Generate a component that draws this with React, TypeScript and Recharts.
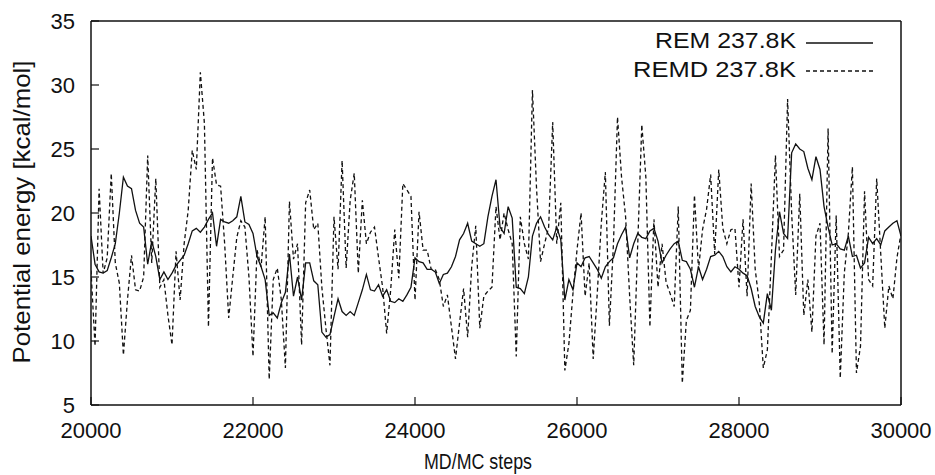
import { LineChart, Line, XAxis, YAxis, Legend } from "recharts";

const FONT = '"Liberation Sans", Arial, Helvetica, sans-serif';
const INK = "#111";

// sampling of the trajectories (MD/MC steps)
const STEP_START = 20000;
const STEP_SIZE = 50;

// REM 237.8K potential energy [kcal/mol]
const remEnergy = [
  18.2, 16.0, 15.4, 15.3, 15.5, 16.5, 17.6, 20.0, 22.8, 22.1,
  21.9, 20.2, 19.2, 18.9, 16.0, 17.8, 16.6, 14.8, 15.4, 14.8,
  15.3, 15.9, 16.3, 16.7, 17.6, 18.6, 18.8, 18.5, 18.9, 19.5,
  20.0, 17.4, 19.5, 19.3, 19.2, 19.4, 19.7, 21.3, 19.3, 19.1,
  18.4, 16.6, 15.8, 14.8, 12.0, 12.2, 11.8, 13.0, 13.8, 16.8,
  13.5, 15.0, 13.2, 16.1, 16.1, 14.7, 14.4, 10.7, 10.3, 10.5,
  11.9, 13.3, 12.3, 12.0, 12.3, 12.0, 13.0, 14.0, 15.2, 14.0,
  13.9, 14.4, 13.5, 14.0, 13.1, 13.0, 13.3, 13.1, 13.6, 14.2,
  16.5, 16.2, 16.1, 15.6, 15.6, 15.4, 14.5, 15.2, 15.3, 15.8,
  16.6, 17.9, 18.4, 19.2, 17.8, 17.6, 17.4, 17.6, 19.7, 21.3,
  22.6, 18.9, 18.4, 20.5, 19.6, 14.2, 14.1, 13.7, 15.0, 18.2,
  19.2, 19.7, 18.9, 18.3, 17.9, 18.9, 17.9, 13.2, 14.8, 14.0,
  16.1, 15.8, 16.5, 16.6, 16.1, 15.6, 14.9, 15.8, 16.2, 16.5,
  17.6, 18.3, 18.9, 16.5, 17.6, 18.4, 18.1, 18.0, 18.6, 18.8,
  17.8, 16.1, 16.7, 17.2, 17.6, 17.8, 16.3, 16.2, 15.6, 14.2,
  15.8, 14.8, 15.6, 16.6, 16.7, 17.0, 16.6, 15.8, 15.4, 15.8,
  15.6, 15.3, 15.1, 14.1, 12.7, 11.9, 11.4, 13.7, 12.4, 17.1,
  20.1, 18.4, 18.0, 24.7, 25.4, 25.0, 24.8, 23.5, 22.6, 24.4,
  23.4, 20.5, 18.9, 17.5, 17.6, 17.2, 17.1, 18.2, 16.6, 16.7,
  15.7, 16.1, 18.1, 17.6, 18.0, 17.5, 18.6, 18.9, 19.2, 19.4,
  18.2,
];

// REMD 237.8K potential energy [kcal/mol]
const remdEnergy = [
  15.5, 9.6, 21.9, 15.3, 16.5, 23.1, 16.1, 14.5, 8.9, 13.2,
  16.7, 14.0, 13.9, 15.0, 24.5, 16.1, 22.7, 14.2, 14.8, 12.0,
  9.7, 17.0, 13.2, 17.6, 20.2, 24.9, 23.4, 31.0, 27.0, 11.1,
  24.3, 22.2, 22.1, 17.6, 11.8, 15.0, 18.1, 19.4, 18.9, 15.0,
  8.8, 17.1, 15.8, 19.7, 7.0, 14.8, 15.7, 13.2, 7.9, 20.9,
  16.4, 17.6, 9.7, 20.8, 21.8, 18.7, 19.2, 14.2, 11.0, 8.1,
  19.7, 15.6, 24.1, 15.7, 21.0, 23.1, 15.3, 21.0, 17.6, 18.5,
  18.9, 16.5, 14.2, 10.6, 14.0, 18.7, 14.9, 22.3, 21.8, 21.3,
  13.2, 20.1, 17.1, 17.1, 15.6, 15.6, 14.8, 12.7, 13.6, 11.1,
  8.6, 11.4, 14.1, 10.3, 15.8, 19.0, 11.0, 13.5, 13.9, 14.2,
  20.5, 17.9, 20.0, 18.7, 17.6, 8.8, 19.7, 17.6, 16.4, 29.6,
  22.0, 16.2, 17.6, 18.9, 27.1, 17.6, 20.8, 7.7, 9.8, 13.7,
  17.1, 20.0, 13.5, 16.1, 8.6, 13.7, 19.2, 23.2, 11.2, 17.6,
  27.5, 22.8, 19.7, 13.5, 8.1, 17.6, 26.9, 22.8, 11.1, 19.5,
  14.2, 17.6, 14.6, 13.7, 12.7, 20.5, 6.7, 11.6, 12.4, 21.4,
  15.6, 18.7, 20.3, 23.0, 16.8, 23.4, 18.8, 17.6, 18.7, 18.8,
  14.2, 19.5, 13.5, 22.3, 15.6, 13.0, 7.9, 9.3, 16.6, 24.5,
  16.6, 17.1, 28.9, 20.0, 13.6, 21.5, 12.0, 14.8, 10.7, 18.2,
  19.2, 9.7, 26.6, 9.0, 19.8, 7.1, 15.3, 18.4, 23.6, 7.5,
  9.6, 21.7, 14.8, 14.3, 22.7, 16.8, 11.0, 14.3, 13.3, 16.5,
  18.4,
];

const xTicks = [20000, 22000, 24000, 26000, 28000, 30000];
const yTicks = [5, 10, 15, 20, 25, 30, 35];

const series = [
  { key: "rem", name: "REM 237.8K", dash: undefined as string | undefined, textLength: 141 },
  { key: "remd", name: "REMD 237.8K", dash: "4 3", textLength: 163 },
];

const data = remEnergy.map((v, i) => ({
  step: STEP_START + i * STEP_SIZE,
  rem: v,
  remd: remdEnergy[i],
}));

const tickStyle = { fontSize: 22, fontFamily: FONT, fill: INK };

function EnergyLegend() {
  return (
    <svg width={300} height={64} style={{ display: "block" }}>
      {series.map((s, i) => (
        <g key={s.key}>
          <text
            x={196}
            y={28 + i * 29}
            textAnchor="end"
            fontSize={22}
            fontFamily={FONT}
            fill={INK}
            textLength={s.textLength}
            lengthAdjust="spacingAndGlyphs"
          >
            {s.name}
          </text>
          <line
            x1={206}
            x2={273}
            y1={23 + i * 28}
            y2={23 + i * 28}
            stroke={INK}
            strokeWidth={1.3}
            strokeDasharray={s.dash}
          />
        </g>
      ))}
    </svg>
  );
}

function XLabel(props: any) {
  const vb = props.viewBox;
  return (
    <text
      x={vb.x + vb.width / 2 - 18}
      y={vb.y + 64}
      textAnchor="middle"
      fontSize={22}
      fontFamily={FONT}
      fill={INK}
      textLength={108}
      lengthAdjust="spacingAndGlyphs"
    >
      MD/MC steps
    </text>
  );
}

function YLabel(props: any) {
  const vb = props.viewBox;
  const cx = 30;
  const cy = vb.y + vb.height / 2 - 1;
  return (
    <text
      x={cx}
      y={cy}
      transform={`rotate(-90, ${cx}, ${cy})`}
      textAnchor="middle"
      fontSize={24}
      fontFamily={FONT}
      fill={INK}
      textLength={303}
      lengthAdjust="spacingAndGlyphs"
    >
      Potential energy [kcal/mol]
    </text>
  );
}

export default function App() {
  const axisLine = { stroke: INK, strokeWidth: 1.5 };
  const tickLine = { stroke: INK, strokeWidth: 1.2 };
  return (
    <div style={{ position: "absolute", left: 0, top: 0, background: "#fff" }}>
      <LineChart
        width={935}
        height={475}
        data={data}
        margin={{ top: 20, right: 33, bottom: 0, left: 0 }}
      >
        <XAxis
          dataKey="step"
          type="number"
          domain={[20000, 30000]}
          ticks={xTicks}
          allowDataOverflow
          height={70}
          tickSize={-8}
          tickMargin={25}
          axisLine={axisLine}
          tickLine={tickLine}
          tick={tickStyle}
          label={<XLabel />}
        />
        <XAxis
          xAxisId="top"
          orientation="top"
          dataKey="step"
          type="number"
          domain={[20000, 30000]}
          ticks={xTicks}
          allowDataOverflow
          height={1}
          tickSize={-8}
          axisLine={axisLine}
          tickLine={tickLine}
          tick={false}
        />
        <YAxis
          type="number"
          domain={[5, 35]}
          ticks={yTicks}
          allowDataOverflow
          width={91}
          tickSize={-8}
          tickMargin={24}
          axisLine={axisLine}
          tickLine={tickLine}
          tick={tickStyle}
          label={<YLabel />}
        />
        <YAxis
          yAxisId="right"
          orientation="right"
          type="number"
          domain={[5, 35]}
          ticks={yTicks}
          allowDataOverflow
          width={1}
          tickSize={-8}
          axisLine={axisLine}
          tickLine={tickLine}
          tick={false}
        />
        <Legend
          layout="horizontal"
          verticalAlign="middle"
          align="center"
          content={<EnergyLegend />}
          wrapperStyle={{ position: "absolute", left: 600, top: 20, width: 300, height: 64 }}
        />
        {series.map((s) => (
          <Line
            key={s.key}
            dataKey={s.key}
            name={s.name}
            type="linear"
            stroke={INK}
            strokeWidth={1.3}
            strokeDasharray={s.dash}
            dot={false}
            activeDot={false}
            isAnimationActive={false}
          />
        ))}
      </LineChart>
    </div>
  );
}
